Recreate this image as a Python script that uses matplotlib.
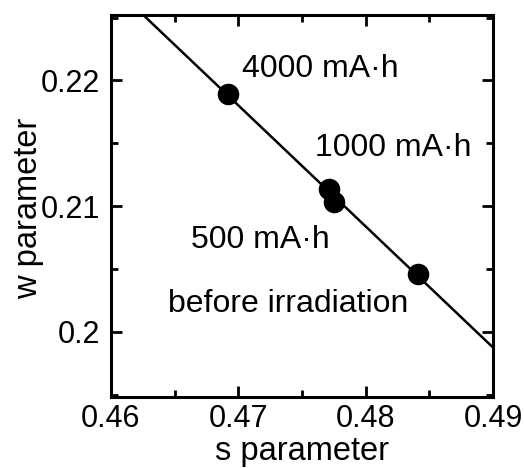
import numpy as np
import matplotlib
matplotlib.use("Agg")
import matplotlib.pyplot as plt
from matplotlib.ticker import MultipleLocator

# Data
s_param = [0.4692, 0.4771, 0.4775, 0.4841]
w_param = [0.2189, 0.2114, 0.2103, 0.2046]
labels = ["4000 mA·h", "1000 mA·h", "500 mA·h", "before irradiation"]
label_x = [0.4703, 0.4760, 0.4663, 0.4645]
label_y = [0.2203, 0.2140, 0.2067, 0.2016]

plt.rcParams['font.family'] = ['Liberation Sans', 'DejaVu Sans']

fig = plt.figure(figsize=(5.24, 4.68), dpi=100)
ax = fig.add_axes([111/524, 1 - 397.3/468, (493 - 111)/524, (397.3 - 15)/468])

# linear fit line
coef = np.polyfit(s_param, w_param, 1)
xl = np.array([0.455, 0.495])
ax.plot(xl, np.polyval(coef, xl), color='black', lw=1.8, zorder=2)
ax.plot(s_param, w_param, 'o', color='black', ms=14.5, zorder=3)

for t, x, y in zip(labels, label_x, label_y):
    ax.text(x, y, t, fontsize=23, ha='left', va='baseline')

ax.set_xlim(0.46, 0.49)
ax.set_ylim(0.1948, 0.2252)
ax.xaxis.set_minor_locator(MultipleLocator(0.005))
ax.yaxis.set_minor_locator(MultipleLocator(0.005))
ax.set_xticks([0.46, 0.47, 0.48, 0.49])
ax.set_xticklabels(["0.46", "0.47", "0.48", "0.49"])
ax.set_yticks([0.2, 0.21, 0.22])
ax.set_yticklabels(["0.2", "0.21", "0.22"])

ax.tick_params(which='both', direction='in', top=True, right=True, width=2)
ax.tick_params(which='major', length=8, labelsize=22)
ax.tick_params(axis='x', which='major', pad=5)
ax.tick_params(axis='y', which='major', pad=8)
ax.tick_params(which='minor', length=5)
for sp in ax.spines.values():
    sp.set_linewidth(2.2)

ax.set_xlabel("s parameter", fontsize=23.5)
ax.xaxis.label.set_va('baseline')
ax.xaxis.set_label_coords(0.5, -0.163)
ax.set_ylabel("w parameter", fontsize=23.5)
ax.yaxis.label.set_va('center')
ax.yaxis.label.set_ha('center')
ax.yaxis.set_label_coords(-0.217, 0.495)

fig.savefig("out.png", dpi=100)
